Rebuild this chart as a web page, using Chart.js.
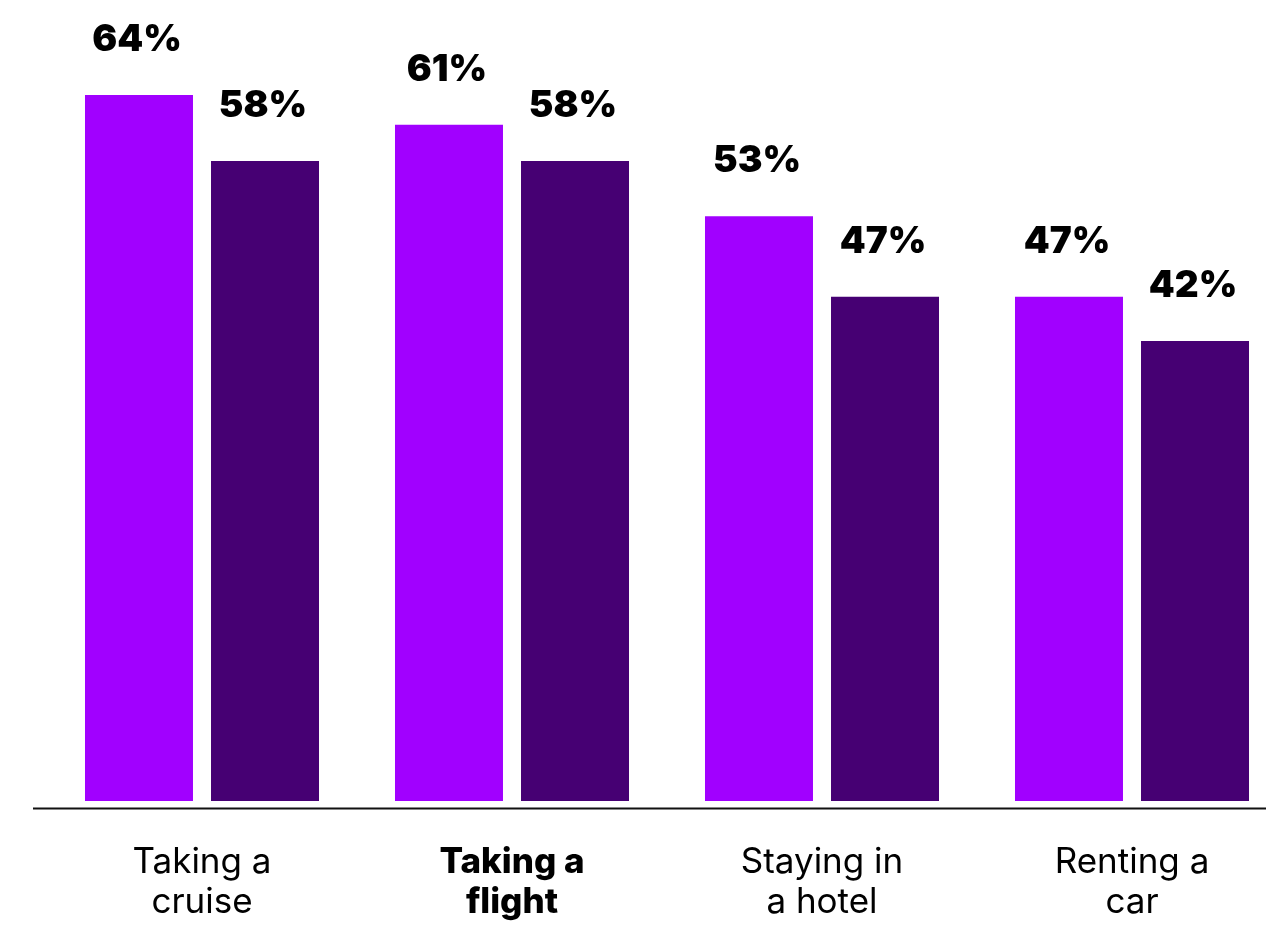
<!DOCTYPE html>
<html>
<head>
<meta charset="utf-8">
<script src="https://cdn.jsdelivr.net/npm/chart.js@4.4.1/dist/chart.umd.min.js"></script>
<style>
  html, body { margin: 0; padding: 0; background: #fff; overflow: hidden; }
  #wrap { width: 1287px; height: 925px; }
</style>
</head>
<body>
<div id="wrap"><canvas id="myChart"></canvas></div>
<script>
const categories = [["Taking a", "cruise"], ["Taking a", "flight"], ["Staying in", "a hotel"], ["Renting a", "car"]];
const boldCategory = 1;
const seriesA = [64, 61.3, 53, 45.7];
const seriesB = [58, 58, 45.7, 41.7];
const labelsA = ["64%", "61%", "53%", "47%"];
const labelsB = ["58%", "58%", "47%", "42%"];

const valueLabels = {
  id: "valueLabels",
  afterDatasetsDraw(chart) {
    const c = chart.ctx;
    const texts = [labelsA, labelsB];
    c.save();
    c.fillStyle = "#000";
    c.font = "900 37px Inter";
    c.textAlign = "center";
    c.textBaseline = "middle";
    chart.data.datasets.forEach((ds, i) => {
      chart.getDatasetMeta(i).data.forEach((bar, j) => {
        c.fillText(texts[i][j], bar.x - 2, bar.y - 55);
      });
    });
    c.restore();
  }
};

const baseLine = {
  id: "baseLine",
  afterDatasetsDraw(chart) {
    const c = chart.ctx;
    c.save();
    c.strokeStyle = "#111";
    c.lineWidth = 2;
    c.beginPath();
    c.moveTo(33, chart.chartArea.bottom + 7.5);
    c.lineTo(chart.width, chart.chartArea.bottom + 7.5);
    c.stroke();
    c.restore();
  }
};

const ctx = document.getElementById("myChart");
new Chart(ctx, {
  type: "bar",
  data: {
    labels: categories,
    datasets: [
      { data: seriesA, backgroundColor: "#A100FF", categoryPercentage: 0.813, barPercentage: 0.857 },
      { data: seriesB, backgroundColor: "#460073", categoryPercentage: 0.813, barPercentage: 0.857 }
    ]
  },
  options: {
    responsive: true,
    maintainAspectRatio: false,
    animation: false,
    events: [],
    layout: { padding: { left: 47, right: 0, top: 0, bottom: 0 } },
    plugins: { legend: { display: false }, tooltip: { enabled: false } },
    scales: {
      x: {
        border: { display: false },
        grid: { display: false, drawTicks: false },
        ticks: {
          color: "#000",
          padding: 41,
          maxRotation: 0,
          autoSkip: false,
          font: (c) => ({
            family: "Inter",
            size: 35,
            weight: c.index === boldCategory ? "800" : "normal",
            lineHeight: 1.15
          })
        },
        afterFit(scale) { scale.height = 124; }
      },
      y: {
        display: false,
        min: 0,
        max: 72.6
      }
    }
  },
  plugins: [valueLabels, baseLine]
});
</script>
</body>
</html>
